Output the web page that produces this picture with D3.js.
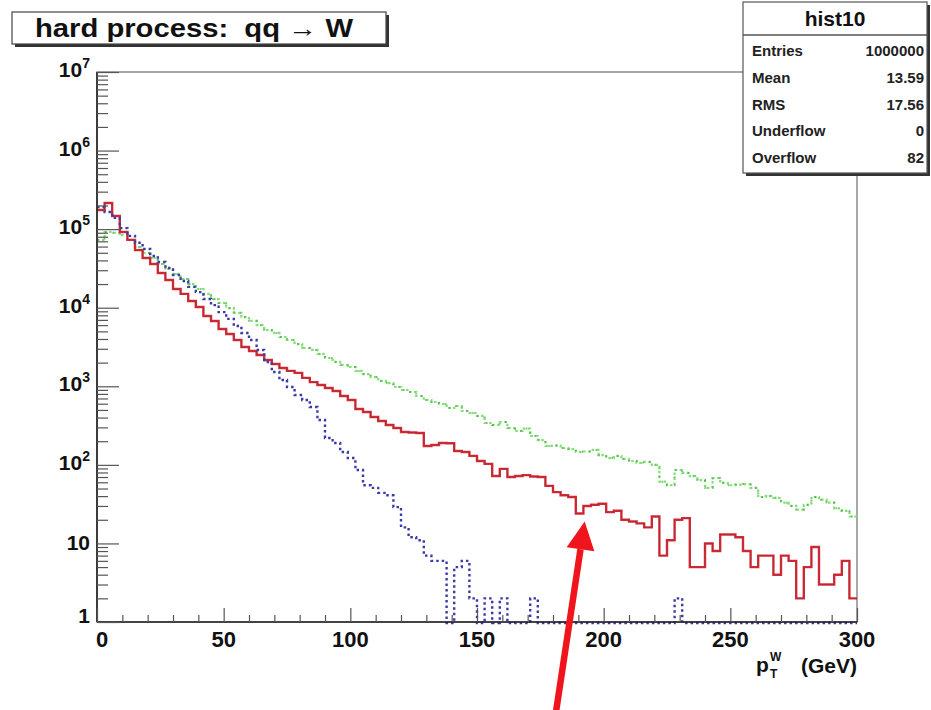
<!DOCTYPE html>
<html>
<head>
<meta charset="utf-8">
<script src="https://cdn.jsdelivr.net/npm/d3@7/dist/d3.min.js"></script>
<style>
  html, body { margin: 0; padding: 0; background: #fff; }
  svg { display: block; font-family: "Liberation Sans", Arial, Helvetica, sans-serif; }
  text { white-space: pre; }
</style>
</head>
<body>
<svg id="chart" width="931" height="710"></svg>
<script>
// ---------------- data ----------------
const xDomain = [0, 300];
const binWidth = 3;            // GeV per bin, 100 bins
const xTickValues = [0, 50, 100, 150, 200, 250, 300];
const yTickValues = [1, 10, 100, 1000, 10000, 100000, 1000000, 10000000];
const yTickExponents = ["", "", "2", "3", "4", "5", "6", "7"];

// red solid histogram
const redCounts = [
  175000, 215000, 147000, 92000, 73000, 54000, 43000, 36000, 27700, 22500,
  17300, 15000, 12200, 10200, 7850, 6780, 5360, 4630, 3880, 3160,
  2810, 2500, 2160, 1920, 1710, 1570, 1480, 1280, 1130, 1040,
  951, 871, 752, 669, 514, 471, 406, 362, 322, 294,
  262, 258, 254, 174, 179, 190, 188, 150, 146, 130,
  112, 103, 72, 89, 70, 72, 74, 71, 70, 54,
  45, 41, 39, 24, 30, 31, 32, 25, 26, 20,
  19, 18, 16, 22, 7, 11, 20, 21, 5, 5,
  10, 8, 13, 13, 12, 8, 5, 7, 7, 4,
  7, 6, 2, 5, 9, 3, 3, 4, 6, 2
];
// green dotted histogram
const greenCounts = [
  73000, 92000, 90000, 84000, 73000, 59000, 49700, 43000, 36000, 31100,
  26900, 23200, 20000, 17300, 15000, 12900, 11500, 9900, 8600, 7600,
  6800, 6000, 5200, 4770, 4240, 3880, 3450, 3070, 2900, 2580,
  2290, 2040, 1870, 1760, 1570, 1430, 1310, 1170, 1100, 980,
  897, 846, 752, 669, 631, 595, 529, 561, 485, 457,
  419, 341, 322, 351, 294, 270, 290, 233, 207, 174,
  176, 164, 159, 146, 148, 155, 133, 122, 130, 119,
  112, 106, 109, 100, 61, 55, 86, 79, 72, 64,
  51, 68, 59, 55, 56, 57, 51, 39, 40, 38,
  33, 30, 27, 31, 39, 36, 33, 28, 26, 22
];
// blue dotted histogram
const blueCounts = [
  191000, 165000, 139000, 103000, 82000, 67000, 56000, 45500, 38200, 32000,
  26100, 21900, 18400, 15800, 12900, 10800, 8800, 7200, 5850, 4770,
  3880, 2900, 2040, 1520, 1200, 980, 775, 669, 545, 372,
  220, 190, 146, 122, 86, 55, 51, 44, 41, 29,
  16, 12, 11, 7, 6, 6, 0, 5, 6, 2,
  0, 2, 0, 2, 0, 0, 0, 2, 0, 0,
  0, 0, 0, 0, 0, 0, 0, 0, 0, 0,
  0, 0, 0, 0, 0, 0, 2, 0, 0, 0,
  0, 0, 0, 0, 0, 0, 0, 0, 0, 0,
  0, 0, 0, 0, 0, 0, 0, 0, 0, 0
];

const titleText = "hard process:  qq \u2192 W";
const statsName = "hist10";
const statsLabels = ["Entries", "Mean", "RMS", "Underflow", "Overflow"];
const statsValues = ["1000000", "13.59", "17.56", "0", "82"];
const arrowTo = [192.5, 19];       // arrow tip (data coords) pointing to the dip

// ---------------- layout ----------------
const svg = d3.select("#chart");
const frame = { left: 97, right: 857, top: 72, bottom: 622 };

const x = d3.scaleLinear().domain(xDomain).range([frame.left, frame.right]);
const y = d3.scaleLog().domain([1, 1e7]).range([frame.bottom, frame.top]);

function yv(v) { return v > 0 ? y(Math.max(v, 1)) : frame.bottom + 1; }

// ---------------- frame ----------------
svg.append("rect").attr("x", 0).attr("y", 0).attr("width", 931).attr("height", 710).attr("fill", "#fff");
svg.append("rect")
  .attr("x", frame.left).attr("y", frame.top)
  .attr("width", frame.right - frame.left).attr("height", frame.bottom - frame.top)
  .attr("fill", "none").attr("stroke", "#8a8a8a").attr("stroke-width", 1.5);

// ---------------- histograms ----------------
function stepPoints(counts) {
  const pts = [];
  counts.forEach((c, i) => {
    const lo = i * binWidth, hi = (i + 1) * binWidth;
    pts.push([x(lo), yv(c)]);
    pts.push([x(hi), yv(c)]);
  });
  return pts;
}
const line = d3.line();

svg.append("path").attr("d", line(stepPoints(greenCounts)))
  .attr("fill", "none").attr("stroke", "#7be36a").attr("stroke-width", 2.2)
  .attr("stroke-dasharray", "2.5,2.5");
svg.append("path").attr("d", line(stepPoints(greenCounts)))
  .attr("fill", "none").attr("stroke", "#3f8f4a").attr("stroke-width", 2)
  .attr("stroke-dasharray", "1.5,6.5").attr("opacity", 0.6);

svg.append("path").attr("d", line(stepPoints(redCounts)))
  .attr("fill", "none").attr("stroke", "#d9303b").attr("stroke-width", 2.4);
svg.append("path").attr("d", line(stepPoints(redCounts)))
  .attr("fill", "none").attr("stroke", "#7a1a22").attr("stroke-width", 0.8).attr("opacity", 0.45);

svg.append("path").attr("d", line(stepPoints(blueCounts)))
  .attr("fill", "none").attr("stroke", "#3b3ba8").attr("stroke-width", 2.4)
  .attr("stroke-dasharray", "2.5,3");

// ---------------- axes ----------------
const axisColor = "#222";
svg.append("line").attr("x1", frame.left).attr("x2", frame.left)
  .attr("y1", frame.top).attr("y2", frame.bottom).attr("stroke", axisColor).attr("stroke-width", 1.6);
svg.append("line").attr("x1", frame.left).attr("x2", frame.right)
  .attr("y1", frame.bottom).attr("y2", frame.bottom).attr("stroke", axisColor).attr("stroke-width", 1.6);

// y ticks (inside, pointing right)
const yMinor = [];
for (let e = 0; e < 7; e++) for (let m = 2; m <= 9; m++) yMinor.push(m * Math.pow(10, e));
const yAxis = d3.axisRight(y).tickValues(yTickValues).tickSize(22).tickFormat("");
const yAxisMinor = d3.axisRight(y).tickValues(yMinor).tickSize(11).tickFormat("");
const gy = svg.append("g").attr("transform", `translate(${frame.left},0)`).call(yAxis);
const gyMinor = svg.append("g").attr("transform", `translate(${frame.left},0)`).call(yAxisMinor);
[gy, gyMinor].forEach(g => {
  g.select(".domain").remove();
  g.selectAll(".tick line").attr("stroke", "#555").attr("stroke-width", 1.2);
});

// y tick labels
yTickValues.forEach((v, i) => {
  const yy = y(v);
  const t = svg.append("text")
    .attr("x", frame.left - 7).attr("y", yy + 5)
    .attr("text-anchor", "end")
    .attr("font-size", 21).attr("font-weight", "bold").attr("fill", "#111");
  if (v === 1) {
    t.attr("y", yy + 1).text("1");
  } else if (v === 10) {
    t.attr("y", yy + 7).text("10");
  } else {
    t.append("tspan").text("10");
    t.append("tspan").attr("dy", -9).attr("font-size", 14).text(yTickExponents[i]);
  }
});

// x ticks (inside, pointing up)
const xMinor = d3.range(10, 300, 10).filter(v => v % 50 !== 0);
const xAxis = d3.axisTop(x).tickValues(xTickValues).tickSize(14).tickFormat("");
const xAxisMinor = d3.axisTop(x).tickValues(xMinor).tickSize(7).tickFormat("");
const gx = svg.append("g").attr("transform", `translate(0,${frame.bottom})`).call(xAxis);
const gxMinor = svg.append("g").attr("transform", `translate(0,${frame.bottom})`).call(xAxisMinor);
[gx, gxMinor].forEach(g => {
  g.select(".domain").remove();
  g.selectAll(".tick line").attr("stroke", "#555").attr("stroke-width", 1.2);
});
svg.selectAll("text.xlab").data(xTickValues).enter().append("text")
  .attr("class", "xlab")
  .attr("x", d => x(d) + (d === 0 ? 5 : 0)).attr("y", frame.bottom + 25)
  .attr("text-anchor", "middle")
  .attr("font-size", 22).attr("font-weight", "bold").attr("fill", "#111")
  .text(d => d);

// x axis title: p_T^W (GeV)
const xtBase = frame.bottom + 51;
svg.append("text").attr("x", frame.right).attr("y", xtBase)
  .attr("text-anchor", "end").attr("font-size", 21).attr("font-weight", "bold").attr("fill", "#111")
  .text("(GeV)");
svg.append("text").attr("x", 756).attr("y", xtBase - 1)
  .attr("font-size", 21).attr("font-weight", "bold").attr("fill", "#111").text("p");
svg.append("text").attr("x", 770).attr("y", xtBase - 12)
  .attr("font-size", 12).attr("font-weight", "bold").attr("fill", "#111").text("W");
svg.append("text").attr("x", 770).attr("y", xtBase + 5)
  .attr("font-size", 12).attr("font-weight", "bold").attr("fill", "#111").text("T");

// ---------------- title box ----------------
svg.append("rect").attr("x", 15).attr("y", 15).attr("width", 374).attr("height", 32).attr("fill", "#333");
svg.append("rect").attr("x", 12).attr("y", 12).attr("width", 374).attr("height", 32)
  .attr("fill", "#fff").attr("stroke", "#444").attr("stroke-width", 1.2);
svg.append("text").attr("x", 35).attr("y", 37)
  .attr("font-size", 25).attr("font-weight", "bold").attr("fill", "#111")
  .attr("textLength", 318).attr("lengthAdjust", "spacingAndGlyphs")
  .text(titleText);

// ---------------- stats box ----------------
const sb = { x: 743, y: 2, w: 184, h: 171 };
svg.append("rect").attr("x", sb.x + 3).attr("y", sb.y + 3).attr("width", sb.w).attr("height", sb.h).attr("fill", "#333");
svg.append("rect").attr("x", sb.x).attr("y", sb.y).attr("width", sb.w).attr("height", sb.h)
  .attr("fill", "#fff").attr("stroke", "#555").attr("stroke-width", 1.2);
svg.append("line").attr("x1", sb.x).attr("x2", sb.x + sb.w).attr("y1", 35).attr("y2", 35)
  .attr("stroke", "#555").attr("stroke-width", 1.4);
svg.append("text").attr("x", sb.x + sb.w / 2).attr("y", 26)
  .attr("text-anchor", "middle").attr("font-size", 21).attr("font-weight", "bold").attr("fill", "#111")
  .text(statsName);
statsLabels.forEach((lab, i) => {
  const yy = 56 + i * 26.8;
  svg.append("text").attr("x", sb.x + 9).attr("y", yy)
    .attr("font-size", 15).attr("font-weight", "bold").attr("fill", "#222").text(lab);
  svg.append("text").attr("x", sb.x + sb.w - 3).attr("y", yy)
    .attr("text-anchor", "end")
    .attr("font-size", 15).attr("font-weight", "bold").attr("fill", "#222").text(statsValues[i]);
});

// ---------------- annotation arrow ----------------
const ax0 = 556, ay0 = 712;
const tipX = x(arrowTo[0]), tipY = y(arrowTo[1]);
const ang = Math.atan2(tipY - ay0, tipX - ax0);
const headLen = 28, headHalf = 14;
const bx = tipX - headLen * Math.cos(ang), by = tipY - headLen * Math.sin(ang);
const px = -Math.sin(ang), py = Math.cos(ang);
svg.append("line").attr("x1", ax0).attr("y1", ay0).attr("x2", bx).attr("y2", by)
  .attr("stroke", "#f0141c").attr("stroke-width", 6.5);
svg.append("path")
  .attr("d", `M${tipX},${tipY} L${bx + px * headHalf},${by + py * headHalf} L${bx - px * headHalf},${by - py * headHalf} Z`)
  .attr("fill", "#f0141c");
</script>
</body>
</html>
